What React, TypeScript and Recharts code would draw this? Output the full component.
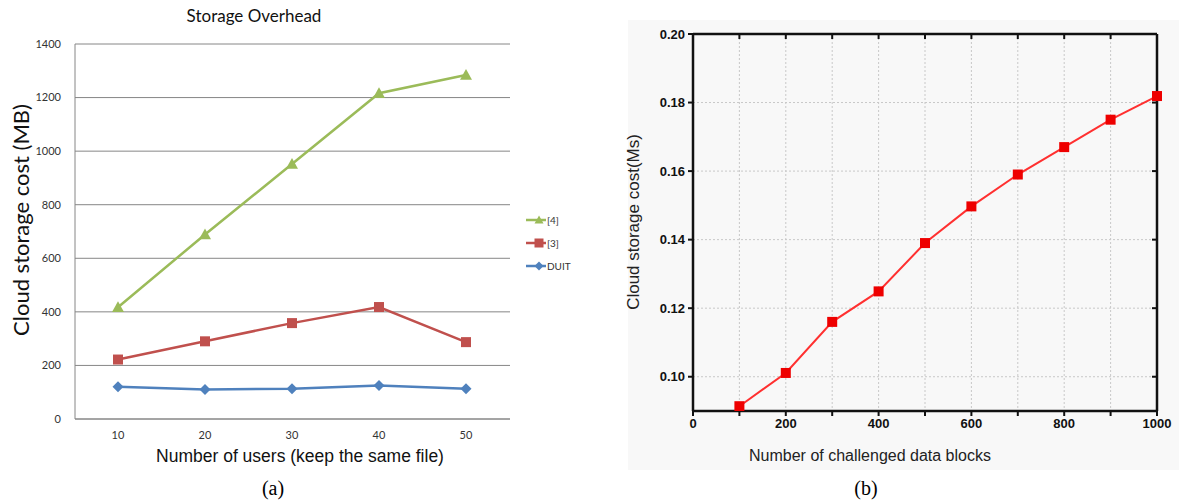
import React from "react";
import {
  LineChart,
  Line,
  XAxis,
  YAxis,
  CartesianGrid,
} from "recharts";

// (a) Storage overhead
const users = [10, 20, 30, 40, 50];
const ref4 = [417, 689, 952, 1216, 1284];
const ref3 = [222, 290, 358, 418, 287];
const duit = [120, 110, 113, 125, 113];
const overheadTicks = [0, 200, 400, 600, 800, 1000, 1200, 1400];

// (b) Challenged blocks
const blocks = [100, 200, 300, 400, 500, 600, 700, 800, 900, 1000];
const blockCost = [0.0914, 0.1011, 0.116, 0.1249, 0.139, 0.1497, 0.159, 0.167, 0.175, 0.1819];
const blockTicks = [0, 100, 200, 300, 400, 500, 600, 700, 800, 900, 1000];
const costTicks = [0.1, 0.12, 0.14, 0.16, 0.18, 0.2];

const GREEN = "#9bbb59";
const RED = "#c0504d";
const BLUE = "#4f81bd";

const overheadData = users.map((u, i) => ({
  users: u,
  ref4: ref4[i],
  ref3: ref3[i],
  duit: duit[i],
}));

const blockData = blocks.map((b, i) => ({ blocks: b, cost: blockCost[i] }));

const Triangle = ({ cx, cy, color, size = 6 }: any) => (
  <path
    d={`M${cx},${cy - size} L${cx + size},${cy + size * 0.8} L${cx - size},${cy + size * 0.8} Z`}
    fill={color}
  />
);
const Square = ({ cx, cy, color, size = 5 }: any) => (
  <rect x={cx - size} y={cy - size} width={size * 2} height={size * 2} fill={color} />
);
const Diamond = ({ cx, cy, color, size = 5.5 }: any) => (
  <path
    d={`M${cx},${cy - size} L${cx + size},${cy} L${cx},${cy + size} L${cx - size},${cy} Z`}
    fill={color}
  />
);

const legendItems = [
  { label: "[4]", color: GREEN, Shape: Triangle },
  { label: "[3]", color: RED, Shape: Square },
  { label: "DUIT", color: BLUE, Shape: Diamond },
];

const abs = (left: number, top: number, extra: React.CSSProperties = {}): React.CSSProperties => ({
  position: "absolute",
  left,
  top,
  ...extra,
});

const boldTick = {
  fontSize: 13,
  fontWeight: "bold",
  fill: "#111",
  fontFamily: "'Liberation Sans', Arial, sans-serif",
};

export default function App() {
  return (
    <div style={{ position: "absolute", left: 0, top: 0, width: 1179, height: 502, background: "#fff", overflow: "hidden" }}>
      {/* light panel behind (b) */}
      <div style={abs(628, 20, { width: 551, height: 450, background: "#f8f8f8" })} />

      {/* ---------- (a) ---------- */}
      <div
        style={abs(254, 15, {
          transform: "translate(-50%, -50%)",
          whiteSpace: "nowrap",
          fontFamily: "Lato, 'Open Sans', sans-serif",
          fontSize: 17,
          color: "#111",
        })}
      >
        Storage Overhead
      </div>
      <div style={abs(0, 0)}>
        <LineChart
          width={600}
          height={502}
          data={overheadData}
          margin={{ top: 44, right: 90, left: 0, bottom: 0 }}
        >
          <CartesianGrid vertical={false} stroke="#868686" />
          <XAxis
            dataKey="users"
            height={83}
            padding={{ left: 43, right: 44 }}
            tickLine={false}
            axisLine={{ stroke: "#868686" }}
            tickMargin={6}
            tick={{ fontSize: 11, fill: "#333", fontFamily: "Lato, sans-serif" }}
          />
          <YAxis
            width={75}
            domain={[0, 1400]}
            ticks={overheadTicks}
            tickLine={false}
            axisLine={{ stroke: "#868686" }}
            tickMargin={8}
            tick={{ fontSize: 11, fill: "#333", fontFamily: "Lato, sans-serif" }}
          />
          <Line
            dataKey="duit"
            stroke={BLUE}
            strokeWidth={2.5}
            isAnimationActive={false}
            dot={(p: any) => <Diamond key={`d${p.index}`} cx={p.cx} cy={p.cy} color={BLUE} />}
          />
          <Line
            dataKey="ref3"
            stroke={RED}
            strokeWidth={2.5}
            isAnimationActive={false}
            dot={(p: any) => <Square key={`s${p.index}`} cx={p.cx} cy={p.cy} color={RED} />}
          />
          <Line
            dataKey="ref4"
            stroke={GREEN}
            strokeWidth={2.5}
            isAnimationActive={false}
            dot={(p: any) => <Triangle key={`t${p.index}`} cx={p.cx} cy={p.cy} color={GREEN} />}
          />
        </LineChart>
      </div>
      {/* legend (a) */}
      <div style={abs(525, 208, { fontFamily: "Lato, sans-serif", fontSize: 10, color: "#333" })}>
        {legendItems.map(({ label, color, Shape }) => (
          <div key={label} style={{ display: "flex", alignItems: "center", height: 23 }}>
            <svg width={22} height={14}>
              <line x1={1} y1={7} x2={21} y2={7} stroke={color} strokeWidth={2.5} />
              <Shape cx={14} cy={7} color={color} size={4.5} />
            </svg>
            <span>{label}</span>
          </div>
        ))}
      </div>
      <div
        style={abs(20, 220, {
          transform: "translate(-50%, -50%) rotate(-90deg)",
          whiteSpace: "nowrap",
          fontFamily: "Lato, sans-serif",
          fontSize: 22,
          color: "#111",
        })}
      >
        Cloud storage cost (MB)
      </div>
      <div
        style={abs(300, 456, {
          transform: "translate(-50%, -50%)",
          whiteSpace: "nowrap",
          fontFamily: "'Liberation Sans', Arial, sans-serif",
          fontSize: 17.5,
          color: "#111",
        })}
      >
        Number of users (keep the same file)
      </div>
      <div
        style={abs(273, 488, {
          transform: "translate(-50%, -50%)",
          fontFamily: "'Liberation Serif', 'Times New Roman', serif",
          fontSize: 20,
          color: "#000",
        })}
      >
        (a)
      </div>

      {/* ---------- (b) ---------- */}
      <div style={abs(600, 0)}>
        <LineChart
          width={579}
          height={502}
          data={blockData}
          margin={{ top: 34, right: 22, left: 0, bottom: 0 }}
        >
          <CartesianGrid stroke="#c8c8c8" strokeDasharray="2 2" />
          <XAxis
            dataKey="blocks"
            type="number"
            domain={[0, 1000]}
            ticks={blockTicks}
            height={91}
            tickSize={5}
            tickLine={{ stroke: "#111", strokeWidth: 2 }}
            axisLine={{ stroke: "#111", strokeWidth: 2.5 }}
            tickMargin={3}
            tickFormatter={(v: number) => (v % 200 === 0 ? String(v) : "")}
            tick={boldTick}
          />
          <XAxis
            xAxisId="top"
            orientation="top"
            dataKey="blocks"
            type="number"
            domain={[0, 1000]}
            ticks={blockTicks}
            height={1}
            mirror
            tickSize={5}
            tickLine={{ stroke: "#111", strokeWidth: 2 }}
            axisLine={{ stroke: "#111", strokeWidth: 2.5 }}
            tickFormatter={() => ""}
          />
          <YAxis
            width={93}
            domain={[0.09, 0.2]}
            allowDataOverflow
            ticks={costTicks}
            tickSize={5}
            tickLine={{ stroke: "#111", strokeWidth: 2 }}
            axisLine={{ stroke: "#111", strokeWidth: 2.5 }}
            tickMargin={3}
            tickFormatter={(v: number) => v.toFixed(2)}
            tick={boldTick}
          />
          <YAxis
            yAxisId="right"
            orientation="right"
            domain={[0.09, 0.2]}
            allowDataOverflow
            ticks={costTicks}
            width={1}
            mirror
            tickSize={5}
            tickLine={{ stroke: "#111", strokeWidth: 2 }}
            axisLine={{ stroke: "#111", strokeWidth: 2.5 }}
            tickFormatter={() => ""}
          />
          <Line
            dataKey="cost"
            stroke="#ff3030"
            strokeWidth={2}
            isAnimationActive={false}
            dot={(p: any) => <Square key={`b${p.index}`} cx={p.cx} cy={p.cy} color="#ee0000" size={5} />}
          />
        </LineChart>
      </div>
      <div
        style={abs(634, 222, {
          transform: "translate(-50%, -50%) rotate(-90deg)",
          whiteSpace: "nowrap",
          fontFamily: "'Liberation Sans', Arial, sans-serif",
          fontSize: 17,
          color: "#222",
        })}
      >
        Cloud storage cost(Ms)
      </div>
      <div
        style={abs(870, 456, {
          transform: "translate(-50%, -50%)",
          whiteSpace: "nowrap",
          fontFamily: "'Liberation Sans', Arial, sans-serif",
          fontSize: 16,
          color: "#222",
        })}
      >
        Number of challenged data blocks
      </div>
      <div
        style={abs(866, 488, {
          transform: "translate(-50%, -50%)",
          fontFamily: "'Liberation Serif', 'Times New Roman', serif",
          fontSize: 20,
          color: "#000",
        })}
      >
        (b)
      </div>
    </div>
  );
}
